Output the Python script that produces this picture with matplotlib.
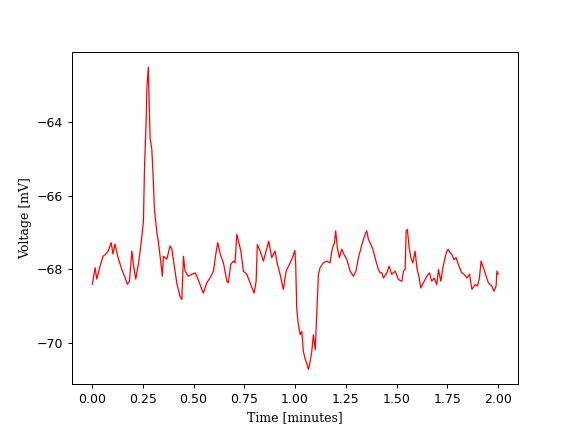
import matplotlib
matplotlib.use('Agg')
import matplotlib.pyplot as plt
import numpy as np

# membrane trace
time_min = [0.001, 0.015, 0.023, 0.039, 0.054, 0.067, 0.079, 0.094, 0.103, 0.113,
            0.128, 0.146, 0.163, 0.174, 0.184, 0.196, 0.203, 0.215, 0.228, 0.241,
            0.253, 0.258, 0.266, 0.270, 0.277, 0.281, 0.286, 0.294, 0.299, 0.307,
            0.319, 0.327, 0.335, 0.346, 0.351, 0.368, 0.384, 0.393, 0.400, 0.417,
            0.433, 0.442, 0.450, 0.458, 0.474, 0.491, 0.507, 0.516, 0.532, 0.548,
            0.565, 0.581, 0.598, 0.609, 0.619, 0.631, 0.647, 0.664, 0.671, 0.683,
            0.696, 0.704, 0.713, 0.721, 0.733, 0.745, 0.762, 0.778, 0.798, 0.808,
            0.814, 0.828, 0.844, 0.857, 0.870, 0.885, 0.901, 0.913, 0.926, 0.942,
            0.956, 0.972, 0.987, 0.999, 1.003, 1.008, 1.016, 1.025, 1.033, 1.041,
            1.049, 1.066, 1.074, 1.082, 1.090, 1.099, 1.107, 1.115, 1.123, 1.139,
            1.156, 1.172, 1.184, 1.194, 1.200, 1.208, 1.218, 1.230, 1.241, 1.255,
            1.271, 1.287, 1.300, 1.312, 1.329, 1.345, 1.353, 1.361, 1.373, 1.383,
            1.394, 1.410, 1.419, 1.427, 1.435, 1.452, 1.463, 1.476, 1.493, 1.509,
            1.526, 1.534, 1.542, 1.547, 1.553, 1.562, 1.570, 1.580, 1.591, 1.600,
            1.611, 1.619, 1.632, 1.649, 1.662, 1.673, 1.685, 1.698, 1.706, 1.718,
            1.728, 1.739, 1.747, 1.755, 1.764, 1.772, 1.783, 1.793, 1.804, 1.821,
            1.833, 1.846, 1.859, 1.871, 1.887, 1.898, 1.908, 1.916, 1.928, 1.941,
            1.952, 1.969, 1.980, 1.990, 1.994, 2.000]
voltage_mv = [-68.41, -67.96, -68.27, -67.92, -67.65, -67.59, -67.51, -67.28, -67.59, -67.32,
              -67.69, -68.00, -68.24, -68.41, -68.33, -67.51, -67.86, -68.27, -67.86, -67.32,
              -66.69, -65.27, -64.01, -63.09, -62.51, -63.46, -64.45, -64.73, -65.27, -66.36,
              -67.01, -67.28, -67.65, -68.19, -67.65, -67.73, -67.37, -67.45, -67.73, -68.37,
              -68.74, -68.82, -67.65, -68.05, -68.19, -68.14, -68.10, -68.19, -68.42, -68.65,
              -68.37, -68.24, -68.05, -67.60, -67.28, -67.59, -67.83, -68.33, -68.37, -67.87,
              -67.78, -67.83, -67.05, -67.24, -67.51, -68.05, -68.14, -68.37, -68.65, -68.33,
              -67.33, -67.51, -67.78, -67.51, -67.24, -67.69, -67.51, -67.87, -68.14, -68.55,
              -68.05, -67.87, -67.69, -67.49, -67.87, -69.06, -69.51, -69.78, -69.69, -70.24,
              -70.42, -70.72, -70.51, -70.24, -69.78, -70.19, -69.15, -68.14, -67.96, -67.83,
              -67.78, -67.83, -67.42, -67.28, -66.96, -67.42, -67.69, -67.46, -67.60, -67.74,
              -68.05, -68.19, -68.05, -67.69, -67.33, -67.05, -66.96, -67.19, -67.33, -67.46,
              -67.69, -68.01, -68.10, -68.10, -68.24, -68.10, -67.92, -68.14, -68.05, -68.28,
              -68.33, -68.05, -68.01, -66.96, -66.92, -67.42, -67.69, -67.83, -67.51, -67.96,
              -68.24, -68.51, -68.37, -68.19, -68.10, -68.33, -68.24, -68.42, -68.01, -68.33,
              -67.96, -67.69, -67.51, -67.46, -67.56, -67.60, -67.74, -67.69, -67.87, -68.10,
              -68.14, -68.24, -68.14, -68.55, -68.42, -68.46, -68.24, -67.78, -67.96, -68.19,
              -68.37, -68.46, -68.60, -68.46, -68.05, -68.14]

fig, ax = plt.subplots(figsize=(6.4, 4.8), dpi=90)
ax.plot(time_min, voltage_mv, color='red', linewidth=1.0)
ax.set_xlabel('Time [minutes]', family='DejaVu Serif')
ax.set_ylabel('Voltage [mV]', family='DejaVu Serif')
ax.set_yticks([-70, -68, -66, -64])
fig.savefig('out.png')
